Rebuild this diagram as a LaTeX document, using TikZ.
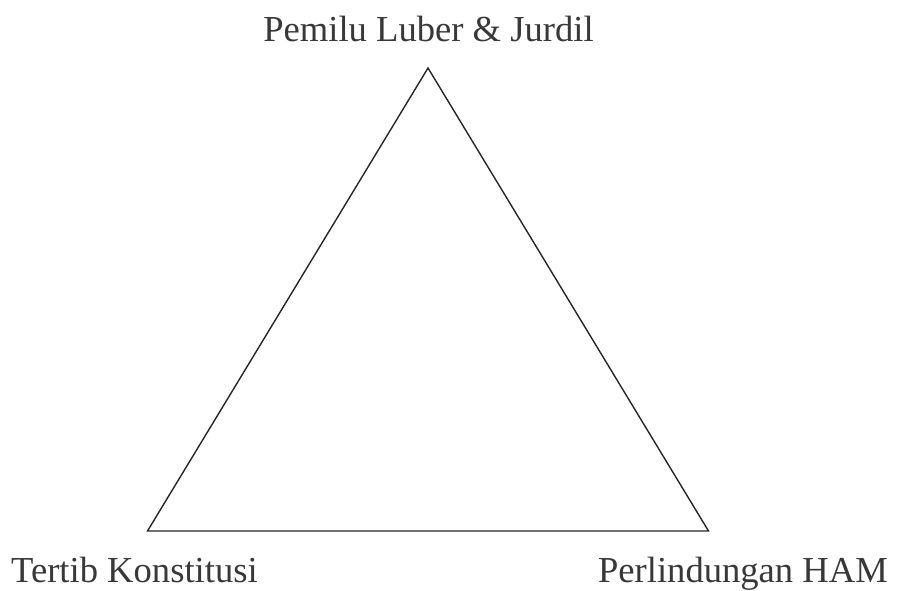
\documentclass[tikz,border=0pt]{standalone}
\usepackage{fontspec}
\setmainfont{Liberation Serif}
\begin{document}
\begin{tikzpicture}[x=1pt,y=1pt,
  lbl/.style={font=\fontsize{36.6}{40}\selectfont, text=black!78, inner sep=0pt},
  edge/.style={draw=black!85, line width=1.4pt, line join=miter}]
\useasboundingbox (0,0) rectangle (897,590);
\coordinate (T) at (428,522);
\coordinate (L) at (147.5,59);
\coordinate (R) at (708.5,59);
\draw[edge] (T) -- (L) -- (R) -- cycle;
\node[lbl, anchor=base] (top) at (428.5,548) {Pemilu Luber \& Jurdil};
\node[lbl, anchor=base west] (left) at (11,8) {Tertib Konstitusi};
\node[lbl, anchor=base east] (right) at (888,8) {Perlindungan HAM};
\end{tikzpicture}
\end{document}
